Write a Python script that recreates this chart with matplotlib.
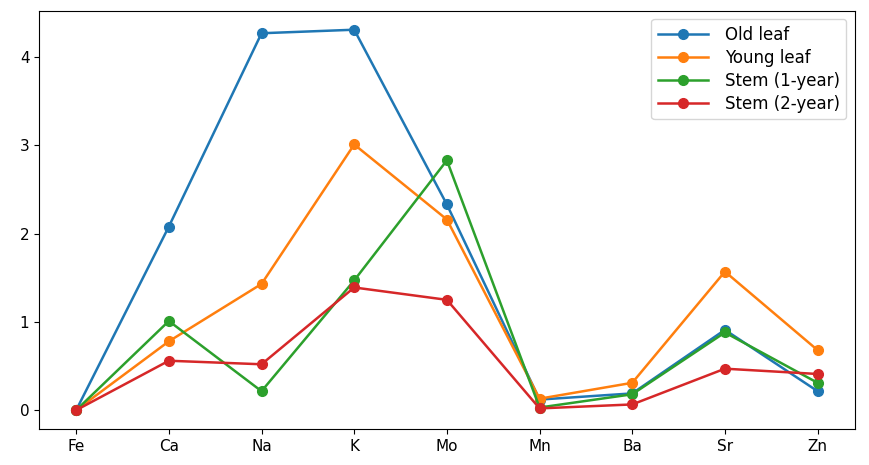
import matplotlib
matplotlib.use("Agg")
import matplotlib.pyplot as plt

elements = ["Fe", "Ca", "Na", "K", "Mo", "Mn", "Ba", "Sr", "Zn"]
old_leaf = [0.0, 2.08, 4.27, 4.31, 2.33, 0.12, 0.19, 0.91, 0.215]
young_leaf = [0.0, 0.78, 1.43, 3.01, 2.16, 0.13, 0.31, 1.57, 0.68]
stem_1yr = [0.0, 1.01, 0.215, 1.47, 2.83, 0.03, 0.18, 0.88, 0.31]
stem_2yr = [0.0, 0.56, 0.52, 1.39, 1.25, 0.02, 0.065, 0.47, 0.41]
labels = ["Old leaf", "Young leaf", "Stem (1-year)", "Stem (2-year)"]

fig = plt.figure(figsize=(8.69, 4.65), dpi=100)
ax = fig.add_axes([0.045, 0.077, 0.9385, 0.9])
for vals, lab in zip([old_leaf, young_leaf, stem_1yr, stem_2yr], labels):
    ax.plot(elements, vals, marker="o", markersize=7, linewidth=1.8, label=lab)
ax.set_yticks([0, 1, 2, 3, 4])
ax.tick_params(labelsize=11)
ax.legend(loc="upper right", fontsize=12, handlelength=3.0, labelspacing=0.3,
          borderaxespad=0.5, handletextpad=1.0)
fig.savefig("out.png", dpi=100)
